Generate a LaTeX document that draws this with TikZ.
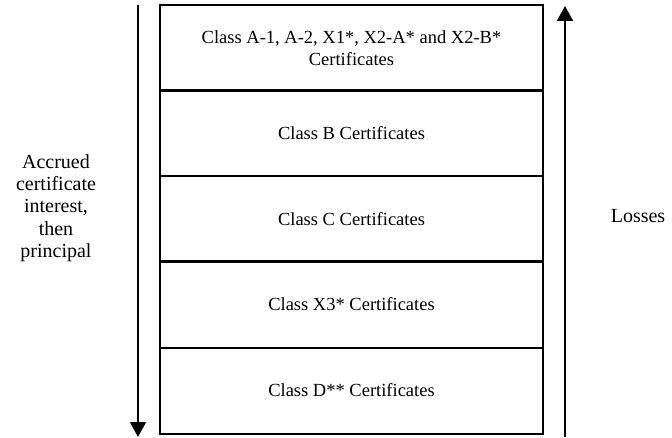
\documentclass[tikz,border=0pt]{standalone}
\usepackage{fontspec}
\setmainfont{Liberation Serif}
\usetikzlibrary{arrows.meta}
\begin{document}
\begin{tikzpicture}[x=1pt,y=-1pt,
  rowbox/.style={draw,line width=2pt,minimum width=383pt,minimum height=86pt,inner sep=0pt,align=center,
    font=\fontsize{18.5}{22.5}\selectfont},
  sidetext/.style={align=center,font=\fontsize{20}{22.4}\selectfont},
  flow/.style={line width=2pt,-{Triangle[width=16pt,length=15pt]}}]
\useasboundingbox (0,0) rectangle (672,438);
\node[rowbox] (r1) at (351.5,48) {Class A-1, A-2, X1*, X2-A* and X2-B*\\Certificates};
\node[rowbox] (r2) at (351.5,133.5) {Class B Certificates};
\node[rowbox] (r3) at (351.5,219) {Class C Certificates};
\node[rowbox] (r4) at (351.5,304.5) {Class X3* Certificates};
\node[rowbox] (r5) at (351.5,390.5) {Class D** Certificates};
\coordinate (ltop) at (138,5);
\coordinate (lbot) at (138,437);
\coordinate (rbot) at (565,437);
\coordinate (rtop) at (565,6);
\draw[flow] (ltop) -- (lbot);
\draw[flow] (rbot) -- (rtop);
\node[sidetext] (acc) at (56,208) {Accrued\\certificate\\interest,\\then\\principal};
\node[sidetext] (loss) at (638,216) {Losses};
\end{tikzpicture}
\end{document}
